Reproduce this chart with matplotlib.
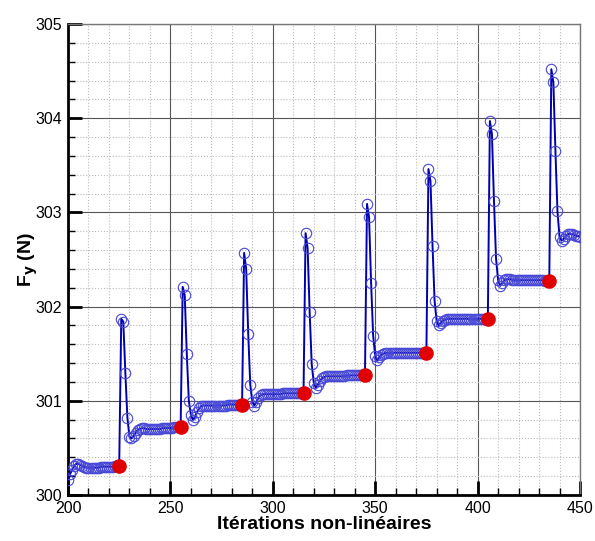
import matplotlib.pyplot as plt
from matplotlib.ticker import MultipleLocator
import numpy as np

# iterations 200..450, one value per iteration
iterations = np.arange(200, 451)

# Fy values, cycle by cycle
fy_200_225 = [300.16, 300.22, 300.27, 300.31, 300.33, 300.33, 300.32, 300.31, 300.30, 300.29,
              300.29, 300.29, 300.29, 300.29, 300.29, 300.29, 300.30, 300.30, 300.30, 300.30,
              300.30, 300.30, 300.30, 300.31, 300.31, 300.31]
fy_226_255 = [301.87, 301.84, 301.30, 300.82, 300.62, 300.60, 300.63, 300.66, 300.69, 300.70,
              300.71, 300.71, 300.70, 300.70, 300.70, 300.70, 300.70, 300.70, 300.70, 300.70,
              300.71, 300.71, 300.71, 300.71, 300.71, 300.71, 300.72, 300.72, 300.72, 300.72]
fy_256_285 = [302.21, 302.12, 301.50, 301.00, 300.85, 300.80, 300.83, 300.88, 300.92, 300.94,
              300.95, 300.95, 300.95, 300.95, 300.95, 300.95, 300.95, 300.95, 300.95, 300.95,
              300.95, 300.95, 300.96, 300.96, 300.96, 300.96, 300.96, 300.96, 300.96, 300.96]
fy_286_315 = [302.57, 302.40, 301.71, 301.17, 300.99, 300.95, 300.99, 301.03, 301.06, 301.07,
              301.07, 301.07, 301.07, 301.07, 301.07, 301.07, 301.07, 301.07, 301.07, 301.08,
              301.08, 301.08, 301.08, 301.08, 301.08, 301.08, 301.08, 301.08, 301.08, 301.08]
fy_316_345 = [302.78, 302.62, 301.94, 301.39, 301.19, 301.14, 301.17, 301.21, 301.24, 301.25,
              301.26, 301.26, 301.26, 301.26, 301.26, 301.26, 301.26, 301.26, 301.26, 301.26,
              301.27, 301.27, 301.27, 301.27, 301.27, 301.27, 301.27, 301.27, 301.27, 301.27]
fy_346_375 = [303.09, 302.95, 302.25, 301.69, 301.48, 301.43, 301.46, 301.49, 301.50, 301.51,
              301.51, 301.51, 301.51, 301.51, 301.51, 301.51, 301.51, 301.51, 301.51, 301.51,
              301.51, 301.51, 301.51, 301.51, 301.51, 301.51, 301.51, 301.51, 301.51, 301.51]
fy_376_405 = [303.46, 303.33, 302.64, 302.06, 301.85, 301.80, 301.83, 301.85, 301.86, 301.87,
              301.87, 301.87, 301.87, 301.87, 301.87, 301.87, 301.87, 301.87, 301.87, 301.87,
              301.87, 301.87, 301.87, 301.87, 301.87, 301.87, 301.87, 301.87, 301.87, 301.87]
fy_406_435 = [303.97, 303.83, 303.12, 302.51, 302.28, 302.22, 302.25, 302.28, 302.29, 302.29,
              302.29, 302.28, 302.28, 302.28, 302.28, 302.28, 302.28, 302.28, 302.28, 302.28,
              302.28, 302.28, 302.28, 302.28, 302.28, 302.28, 302.28, 302.27, 302.27, 302.27]
fy_436_450 = [304.52, 304.38, 303.65, 303.01, 302.74, 302.70, 302.72, 302.75, 302.77, 302.77,
              302.77, 302.76, 302.75, 302.75, 302.74]

fy = np.array(fy_200_225 + fy_226_255 + fy_256_285 + fy_286_315 + fy_316_345
              + fy_346_375 + fy_376_405 + fy_406_435 + fy_436_450)

# converged points at the end of each time step
conv_iter = [225, 255, 285, 315, 345, 375, 405, 435]
conv_fy = [fy[i - 200] for i in conv_iter]

plt.rcParams['font.family'] = ['Liberation Sans', 'DejaVu Sans']

fig = plt.figure(figsize=(5.95, 5.41), dpi=100)
ax = fig.add_axes([68 / 595, 46 / 541, 512 / 595, 471 / 541])

ax.plot(iterations, fy, color='#0000b0', lw=1.4, zorder=3)
ax.plot(iterations, fy, ls='none', marker='o', ms=7.5, mfc='none',
        mec='#4848d8', mew=0.8, zorder=4)
ax.plot(conv_iter, conv_fy, ls='none', marker='o', ms=9.5, color='#e00000', zorder=5)

ax.set_xlim(200, 450)
ax.set_ylim(300, 305)
ax.xaxis.set_major_locator(MultipleLocator(50))
ax.xaxis.set_minor_locator(MultipleLocator(10))
ax.yaxis.set_major_locator(MultipleLocator(1))
ax.yaxis.set_minor_locator(MultipleLocator(0.2))

ax.grid(which='major', color='#555555', lw=0.8, ls='-', zorder=1)
ax.grid(which='minor', color='#bbbbbb', lw=0.8, ls=':', zorder=1)

ax.tick_params(which='major', direction='in', length=10, width=2, labelsize=11.5,
               top=False, right=False, pad=4)
ax.tick_params(which='minor', direction='in', length=5, width=1, top=False, right=False)

for side in ['top', 'right']:
    ax.spines[side].set_color('#777777')
    ax.spines[side].set_linewidth(1)
for side in ['left', 'bottom']:
    ax.spines[side].set_color('black')
    ax.spines[side].set_linewidth(2)

ax.set_xlabel('Itérations non-linéaires', fontsize=14, fontweight='bold', labelpad=0)
ax.set_ylabel(r'F$_\mathbf{y}$ (N)', fontsize=14, fontweight='bold', labelpad=-3)

fig.savefig('out.png', dpi=100)
